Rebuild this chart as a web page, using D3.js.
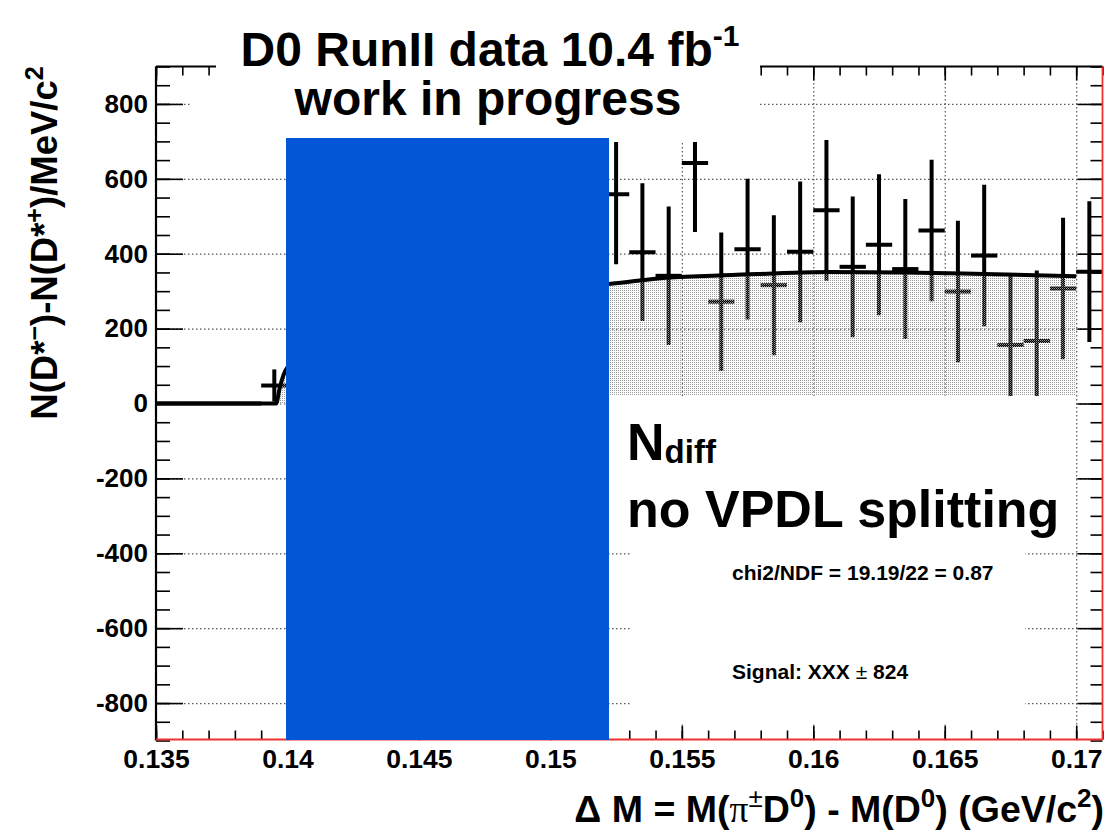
<!DOCTYPE html>
<html><head><meta charset="utf-8">
<script src="https://cdn.jsdelivr.net/npm/d3@7/dist/d3.min.js"></script>
<style>body{margin:0;background:#fff} svg{display:block}</style>
</head><body><svg id="c" width="1106" height="831"></svg>
<script>
// ---- data ----
const binCenters = [0.1355,0.1365,0.1375,0.1385,0.1395,
  0.1525,0.1535,0.1545,0.1555,0.1565,0.1575,0.1585,0.1595,0.1605,0.1615,
  0.1625,0.1635,0.1645,0.1655,0.1665,0.1675,0.1685,0.1695,0.1705];
const binValues = [0,0,0,0,48,
  559,404,341,642,272,412,316,405,516,365,
  424,359,462,299,395,156,167,307,352];
const binErrors = [0,0,0,0,43,
  187,184,185,184,185,188,187,188,188,188,
  188,187,189,189,189,188,188,189,188];
const binWidth = 0.001;
const fitX = [0.135,0.1395,0.13957,0.1397,0.13985,0.1401,0.1410,0.1430,0.1460,0.1490,0.1523,0.1544,0.1569,0.1607,0.1635,0.1665,0.1700];
const fitY = [0,0,0,40,76,108,165,232,278,303,320,336,343,351,350,346,340];
const xMajor = [0.135,0.14,0.145,0.15,0.155,0.16,0.165,0.17];
const xLabels = ["0.135","0.14","0.145","0.15","0.155","0.16","0.165","0.17"];
const yMajor = [-800,-600,-400,-200,0,200,400,600,800];
const yLabels = ["-800","-600","-400","-200","0","200","400","600","800"];
const xMinor = d3.range(0,37).map(i=>+(0.135+i*0.001).toFixed(4));
const yMinor = d3.range(-900,901,50);

// ---- setup ----
const FONT = "'Liberation Sans', Arial, Helvetica, sans-serif";
const svg = d3.select('#c');
const x = d3.scaleLinear().domain([0.135,0.171]).range([156,1102.5]);
const y = d3.scaleLinear().domain([-900,900]).range([740.5,66.5]);
const [X0,X1] = x.range(); const [Y1,Y0] = y.range();
const W = X1-X0, H = Y1-Y0;

const defs = svg.append('defs');
defs.append('clipPath').attr('id','plot').append('rect')
  .attr('x',X0).attr('y',Y0).attr('width',W).attr('height',H);
const pat = defs.append('pattern').attr('id','stip').attr('patternUnits','userSpaceOnUse')
  .attr('width',2).attr('height',2);
pat.append('rect').attr('x',0).attr('y',0).attr('width',1).attr('height',1).attr('fill','#9a9a9a');
pat.append('rect').attr('x',1).attr('y',1).attr('width',1).attr('height',1).attr('fill','#eeeeee').attr('opacity',0.35);

svg.append('rect').attr('width',1106).attr('height',831).attr('fill','#fff');

// grid
const grid = svg.append('g').attr('class','grid');
grid.append('g').attr('transform',`translate(${X0},0)`)
  .call(d3.axisLeft(y).tickValues(yMajor).tickSize(-W).tickFormat(''))
  .call(g=>g.select('.domain').remove());
grid.append('g').attr('transform',`translate(0,${Y1})`)
  .call(d3.axisBottom(x).tickValues(xMajor.slice(1)).tickSize(-H).tickFormat(''))
  .call(g=>g.select('.domain').remove());
grid.selectAll('line').attr('stroke','#555').attr('stroke-width',1.2).attr('stroke-dasharray','1.5,2.5');

const plot = svg.append('g').attr('clip-path','url(#plot)');

// data error bars
const bars = plot.append('g').attr('stroke','#000').attr('stroke-width',4);
binCenters.forEach((c,i)=>{
  const v=binValues[i], e=binErrors[i];
  if(e>0) bars.append('line').attr('x1',x(c)).attr('x2',x(c)).attr('y1',y(v-e)).attr('y2',y(v+e));
  bars.append('line').attr('x1',x(c-binWidth/2)).attr('x2',x(c+binWidth/2)).attr('y1',y(v)).attr('y2',y(v));
});

// fit fill + curve
const pts = fitX.map((d,i)=>[d,fitY[i]]);
const fillPts = pts.filter(p=>p[0]>=0.1395);
plot.append('path').datum(fillPts)
  .attr('d',d3.area().x(d=>x(d[0])).y0(y(0)).y1(d=>y(d[1])).curve(d3.curveMonotoneX))
  .attr('fill','url(#stip)');
plot.append('path').datum(pts)
  .attr('d',d3.line().x(d=>x(d[0])).y(d=>y(d[1])).curve(d3.curveMonotoneX))
  .attr('fill','none').attr('stroke','#000').attr('stroke-width',4);

// axes ticks
const ax = svg.append('g');
function style(g){ g.select('.domain').remove(); g.selectAll('line').attr('stroke','#000').attr('stroke-width',1.6); }
ax.append('g').attr('transform',`translate(${X0},0)`)
  .call(d3.axisLeft(y).tickValues(yMinor).tickSize(-14).tickFormat('')).call(style);
ax.append('g').attr('transform',`translate(${X0},0)`)
  .call(d3.axisLeft(y).tickValues(yMajor).tickSize(-27).tickPadding(8).tickFormat((d,i)=>yLabels[i])).call(style)
  .selectAll('text').attr('font-family',FONT).attr('font-weight','bold').attr('font-size',26).attr('fill','#000');
ax.append('g').attr('transform',`translate(${X1},0)`)
  .call(d3.axisRight(y).tickValues(yMinor).tickSize(-12).tickFormat('')).call(style);
ax.append('g').attr('transform',`translate(${X1},0)`)
  .call(d3.axisRight(y).tickValues(yMajor).tickSize(-25).tickFormat('')).call(style);
ax.append('g').attr('transform',`translate(0,${Y1-1})`)
  .call(d3.axisBottom(x).tickValues(xMinor).tickSize(-9).tickFormat('')).call(style);
ax.append('g').attr('transform',`translate(0,${Y1-1})`)
  .call(d3.axisBottom(x).tickValues(xMajor).tickSize(-14).tickPadding(10).tickFormat((d,i)=>xLabels[i])).call(style)
  .selectAll('text').attr('font-family',FONT).attr('font-weight','bold').attr('font-size',26.5).attr('fill','#000');
ax.append('g').attr('transform',`translate(0,${Y0})`)
  .call(d3.axisTop(x).tickValues(xMinor).tickSize(-9).tickFormat('')).call(style);
ax.append('g').attr('transform',`translate(0,${Y0})`)
  .call(d3.axisTop(x).tickValues(xMajor).tickSize(-14).tickFormat('')).call(style);

// frame
svg.append('line').attr('x1',X0).attr('x2',X1).attr('y1',Y0).attr('y2',Y0).attr('stroke','#000').attr('stroke-width',2);
svg.append('line').attr('x1',X0).attr('x2',X0).attr('y1',Y0).attr('y2',Y1).attr('stroke','#000').attr('stroke-width',2.2);
svg.append('line').attr('x1',X0).attr('x2',X1).attr('y1',Y1-1).attr('y2',Y1-1).attr('stroke','#f03030').attr('stroke-width',1.8);
svg.append('line').attr('x1',X1).attr('x2',X1).attr('y1',Y0).attr('y2',Y1-1).attr('stroke','#f03030').attr('stroke-width',1.8);

// axis titles
const xt = svg.append('text').attr('x',1104).attr('y',822).attr('text-anchor','end')
  .attr('font-family',FONT).attr('font-weight','bold').attr('font-size',37.5).attr('fill','#000');
xt.append('tspan').text('\u0394 M = M(');
xt.append('tspan').attr('font-family',"'Liberation Serif', serif").attr('font-weight','normal').text('\u03c0');
xt.append('tspan').attr('font-size',26).attr('font-weight','normal').attr('dy',-15).text('\u00b1');
xt.append('tspan').attr('dy',15).text('D');
xt.append('tspan').attr('font-size',26).attr('dy',-15).text('0');
xt.append('tspan').attr('dy',15).text(') - M(D');
xt.append('tspan').attr('font-size',26).attr('dy',-15).text('0');
xt.append('tspan').attr('dy',15).text(') (GeV/c');
xt.append('tspan').attr('font-size',26).attr('dy',-15).text('2');
xt.append('tspan').attr('dy',15).text(')');

const yt = svg.append('text').attr('transform','translate(57,243) rotate(-90)').attr('text-anchor','middle')
  .attr('font-family',FONT).attr('font-weight','bold').attr('font-size',36.5).attr('fill','#000');
yt.append('tspan').text('N(D*');
yt.append('tspan').attr('font-size',25).attr('dy',-14).text('\u2212');
yt.append('tspan').attr('dy',14).text(')-N(D*');
yt.append('tspan').attr('font-size',25).attr('dy',-14).text('+');
yt.append('tspan').attr('dy',14).text(')/MeV/c');
yt.append('tspan').attr('font-size',25).attr('dy',-14).text('2');

// ROOT pave (stat text)
svg.append('rect').attr('x',632).attr('y',470).attr('width',393).attr('height',254).attr('fill','#fff');
svg.append('text').attr('x',732).attr('y',580).attr('font-family',FONT).attr('font-weight','bold').attr('font-size',21)
  .attr('fill','#000').text('chi2/NDF = 19.19/22 = 0.87');
const sg = svg.append('text').attr('x',732).attr('y',679).attr('font-family',FONT).attr('font-weight','bold').attr('font-size',21).attr('fill','#000');
sg.append('tspan').text('Signal: XXX ');
sg.append('tspan').attr('font-weight','normal').text('\u00b1');
sg.append('tspan').text(' 824');

// overlays
svg.append('rect').attr('x',216).attr('y',0).attr('width',544).attr('height',80).attr('fill','#fff');
svg.append('rect').attr('x',192).attr('y',80).attr('width',568).attr('height',62).attr('fill','#fff');
svg.append('rect').attr('x',286).attr('y',138).attr('width',323).attr('height',602).attr('fill','#0356d5');
svg.append('rect').attr('x',609).attr('y',396).attr('width',467).attr('height',145).attr('fill','#fff');

const t1 = svg.append('text').attr('x',490).attr('y',66).attr('text-anchor','middle')
  .attr('font-family',FONT).attr('font-weight','bold').attr('font-size',48).attr('fill','#000');
t1.append('tspan').text('D0 RunII data 10.4 fb');
t1.append('tspan').attr('font-size',30).attr('dy',-20).text('-1');
svg.append('text').attr('x',488).attr('y',115).attr('text-anchor','middle')
  .attr('font-family',FONT).attr('font-weight','bold').attr('font-size',48).attr('fill','#000').text('work in progress');

const nd = svg.append('text').attr('x',627).attr('y',460).attr('font-family',FONT).attr('font-weight','bold').attr('font-size',52).attr('fill','#000');
nd.append('tspan').text('N');
nd.append('tspan').attr('font-size',33).attr('dy',3).text('diff');
svg.append('text').attr('x',627).attr('y',527).attr('font-family',FONT).attr('font-weight','bold').attr('font-size',52)
  .attr('fill','#000').text('no VPDL splitting');
</script></body></html>
